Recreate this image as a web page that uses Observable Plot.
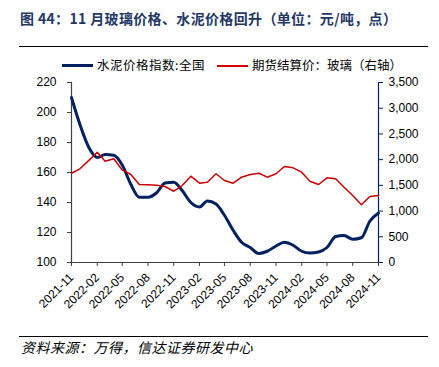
<!DOCTYPE html>
<html><head><meta charset="utf-8">
<script src="https://cdn.jsdelivr.net/npm/d3@7"></script>
<script src="https://cdn.jsdelivr.net/npm/@observablehq/plot@0.6"></script>
<style>
body{margin:0;background:#fff;}
#wrap{position:relative;width:439px;height:367px;background:#fff;overflow:hidden;font-family:"Noto Sans CJK SC","Liberation Sans",sans-serif;}
.abs{position:absolute;white-space:nowrap;line-height:1;}
</style>
</head><body>
<div id="wrap">
  <div class="abs" id="title" style="left:20px;top:11px;font-size:14px;font-weight:bold;letter-spacing:0.35px;color:#1f3864;">图 44：11 月玻璃价格、水泥价格回升（单位：元/吨，点）</div>
  <div class="abs" style="left:19px;top:46px;width:409px;height:1px;background:#000;"></div>
  <div class="abs" style="left:62px;top:64px;width:31px;height:3px;background:#002060;"></div>
  <div class="abs" style="left:97px;top:59px;font-size:12.5px;letter-spacing:0.5px;color:#000;">水泥价格指数:全国</div>
  <div class="abs" style="left:217px;top:64.5px;width:31px;height:2px;background:#d00000;"></div>
  <div class="abs" style="left:252px;top:59px;font-size:12.5px;color:#000;">期货结算价：玻璃（右轴）</div>
  <div id="chart" class="abs" style="left:0;top:72px;"></div>
  <div class="abs" style="left:19px;top:336px;width:409px;height:1px;background:#000;"></div>
  <div class="abs" style="left:21px;top:340px;font-size:14px;font-style:italic;letter-spacing:0.5px;color:#000;">资料来源：万得，信达证券研发中心</div>
</div>
<script>
const months = ["2021-11","2021-12","2022-01","2022-02","2022-03","2022-04","2022-05","2022-06","2022-07","2022-08","2022-09","2022-10","2022-11","2022-12","2023-01","2023-02","2023-03","2023-04","2023-05","2023-06","2023-07","2023-08","2023-09","2023-10","2023-11","2023-12","2024-01","2024-02","2024-03","2024-04","2024-05","2024-06","2024-07","2024-08","2024-09","2024-10","2024-11"];
const cement = [210,192,177,170,172,171.5,165,152,143.5,143.5,146.5,153,153.5,148,140,137,141,139,131.5,121.5,113.5,110,106,107.5,111,113.5,111.5,107.5,106.3,107,110,117.3,118,115.5,116.5,127.5,133];
const glass = [1736,1822,1980,2145,1970,2016,1800,1711,1517,1511,1500,1478,1386,1497,1678,1542,1561,1725,1594,1542,1659,1711,1736,1659,1725,1867,1841,1756,1581,1517,1647,1627,1464,1303,1122,1283,1303];
const xTickLabels = ["2021-11","2022-02","2022-05","2022-08","2022-11","2023-02","2023-05","2023-08","2023-11","2024-02","2024-05","2024-08","2024-11"];
const leftTicks = [100,120,140,160,180,200,220];
const rightTicks = [0,500,1000,1500,2000,2500,3000,3500];

const parse = d3.utcParse("%Y-%m");
const toLeft = v => 100 + v * 120 / 3500;
const fromLeft = y => Math.round((y - 100) * 3500 / 120);
const data = months.map((m, i) => ({date: parse(m), cement: cement[i], glass: toLeft(glass[i])}));
const d0 = parse(months[0]), d1 = parse(months[months.length - 1]);

const chart = Plot.plot({
  width: 439, height: 240,
  marginLeft: 71, marginRight: 61, marginTop: 10, marginBottom: 50,
  style: {fontFamily: "'Liberation Sans', Arial, sans-serif", fontSize: "12px", color: "#000", background: "transparent", overflow: "visible"},
  x: {type: "utc", domain: [d0, d1]},
  y: {domain: [100, 220]},
  marks: [
    Plot.axisY(leftTicks, {anchor: "left", tickSize: 4, tickPadding: 11, stroke: "#404040", fontSize: 12, label: null, tickFormat: d => d}),
    Plot.axisY(rightTicks.map(toLeft), {anchor: "right", tickSize: 4, tickPadding: 6, stroke: "#002060", fontSize: 12, label: null, tickFormat: d => d3.format(",")(fromLeft(d))}),
    Plot.axisX(xTickLabels.map(parse), {anchor: "bottom", tickSize: 4, tickPadding: 9, tickRotate: -45, stroke: "#404040", fontSize: 12, label: null, tickFormat: d3.utcFormat("%Y-%m")}),
    Plot.ruleY([100], {stroke: "#404040", strokeWidth: 1.2}),
    Plot.ruleX([d0], {stroke: "#404040", strokeWidth: 1.2}),
    Plot.ruleX([d1], {stroke: "#002060", strokeWidth: 1.2}),
    Plot.line(data, {x: "date", y: "cement", stroke: "#002060", strokeWidth: 3, curve: "monotone-x"}),
    Plot.line(data, {x: "date", y: "glass", stroke: "#cc0000", strokeWidth: 1.5})
  ]
});
document.getElementById("chart").appendChild(chart);
</script>
</body></html>
